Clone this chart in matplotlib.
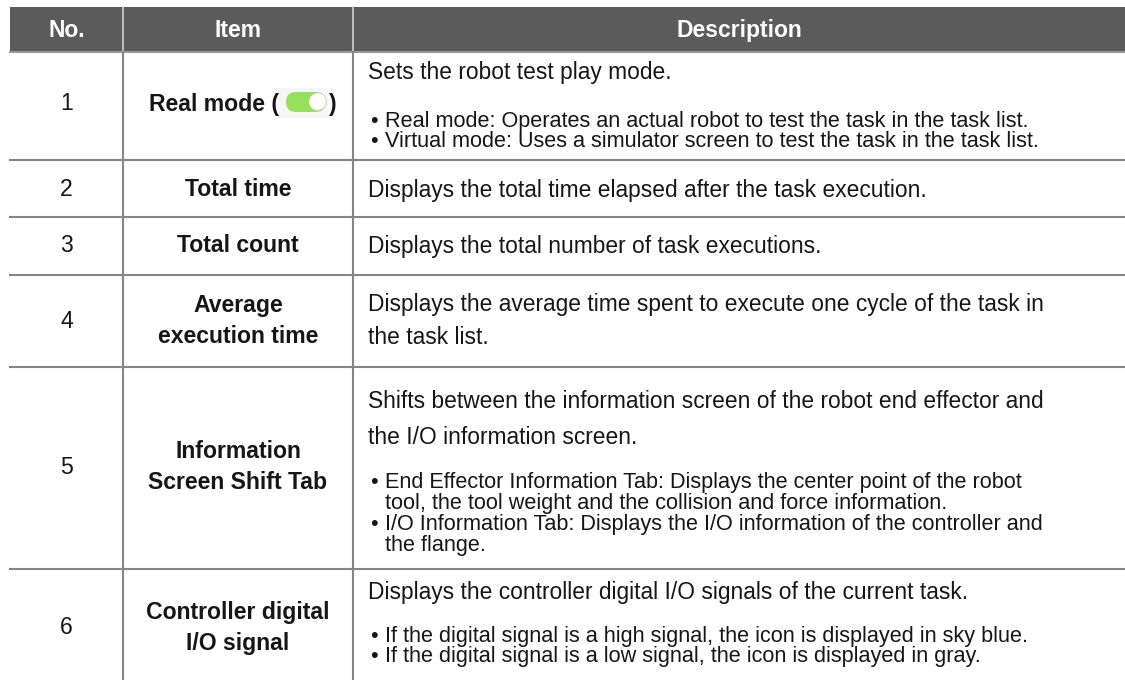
import matplotlib
matplotlib.use("Agg")
import matplotlib.pyplot as plt
from matplotlib.patches import Rectangle, FancyBboxPatch, Circle
from matplotlib.font_manager import FontProperties

plt.rcParams['font.family'] = ['Liberation Sans', 'DejaVu Sans']

# ---- data ----
headers = ["No.", "Item", "Description"]
numbers = ["1", "2", "3", "4", "5", "6"]
items = [
    "Real mode (",
    "Total time",
    "Total count",
    "Average\nexecution time",
    "Information\nScreen Shift Tab",
    "Controller digital\nI/O signal",
]
intros = [
    ["Sets the robot test play mode."],
    ["Displays the total time elapsed after the task execution."],
    ["Displays the total number of task executions."],
    ["Displays the average time spent to execute one cycle of the task in",
     "the task list."],
    ["Shifts between the information screen of the robot end effector and",
     "the I/O information screen."],
    ["Displays the controller digital I/O signals of the current task."],
]
bullets = [
    [["Real mode: Operates an actual robot to test the task in the task list."],
     ["Virtual mode: Uses a simulator screen to test the task in the task list."]],
    [], [], [],
    [["End Effector Information Tab: Displays the center point of the robot",
      "tool, the tool weight and the collision and force information."],
     ["I/O Information Tab: Displays the I/O information of the controller and",
      "the flange."]],
    [["If the digital signal is a high signal, the icon is displayed in sky blue."],
     ["If the digital signal is a low signal, the icon is displayed in gray."]],
]

# ---- layout (pixels) ----
W, H = 1125, 680
col_x = [10, 123, 353, W]
header_top, header_bot = 7, 52
row_bounds = [52, 160, 217, 275, 367, 569, 690]
row_centers = [104, 189, 246, 321, 467, 628]
intro_y = [[73], [190], [247], [305, 338], [402, 438], [593]]
bullet_first_y = [119, None, None, None, 480, 634]
bullet_pitch = [20, None, None, None, 21.0, 20]
item_dy = 31  # line spacing for two-line items

fig = plt.figure(figsize=(W / 100, H / 100), dpi=100)
ax = fig.add_axes([0, 0, 1, 1])
ax.set_xlim(0, W)
ax.set_ylim(H, 0)
ax.axis('off')

line_c = '#858585'
txt_c = '#161616'
fs_head = 16.5
fs_item = 16.6
fs_desc = 16.4
fs_bul = 15.6

renderer = fig.canvas.get_renderer()
bul_prop = FontProperties(family=['Liberation Sans'], size=fs_bul)
lp_w, lp_h, lp_d = renderer.get_text_width_height_descent("lp", bul_prop, ismath=False)
lp_asc = lp_h - lp_d
em_px = fs_bul * 100 / 72.0

# header
ax.add_patch(Rectangle((col_x[0], header_top), W - col_x[0], header_bot - header_top,
                       facecolor='#5b5b5b', edgecolor='none'))
ax.plot([col_x[0], W], [header_bot, header_bot], color='#9a9a9a', lw=1.5)
for i, h in enumerate(headers):
    ax.text((col_x[i] + col_x[i + 1]) / 2, (header_top + header_bot) / 2 + 1, h,
            color='white', fontsize=fs_head, fontweight='bold', ha='center', va='center')
for x in col_x[1:3]:
    ax.plot([x, x], [header_top, header_bot], color='#d0d0d0', lw=1.2)

# grid lines
for y in row_bounds[1:-1]:
    ax.plot([col_x[0], W], [y, y], color=line_c, lw=1.5)
for x in col_x[1:3]:
    ax.plot([x, x], [header_bot, H], color=line_c, lw=1.5)

# rows
for r in range(len(numbers)):
    yc = row_centers[r]
    ax.text((col_x[0] + col_x[1]) / 2, yc, numbers[r], fontsize=fs_item,
            ha='center', va='center', color=txt_c)
    if r == 0:
        ax.text(279, yc, items[r], fontsize=fs_item, fontweight='bold',
                ha='right', va='center', color=txt_c)
        ax.text(329, yc, ")", fontsize=fs_item, fontweight='bold',
                ha='left', va='center', color=txt_c)
        ax.add_patch(Rectangle((278, 88), 50, 30, facecolor='#f6f6f6', edgecolor='none'))
        ax.add_patch(FancyBboxPatch((296, 102), 20, 0, boxstyle='round,pad=10',
                                    facecolor='#96e05e', edgecolor='none'))
        ax.add_patch(Circle((318, 102), 9.0, facecolor='#d8d8d8', edgecolor='none'))
        ax.add_patch(Circle((317.5, 101.5), 8.2, facecolor='white', edgecolor='none'))
    else:
        lines = items[r].split("\n")
        n = len(lines)
        for k, ln in enumerate(lines):
            ax.text((col_x[1] + col_x[2]) / 2, yc + (k - (n - 1) / 2) * item_dy, ln,
                    fontsize=fs_item, fontweight='bold', ha='center', va='center',
                    color=txt_c)
    for ln, y in zip(intros[r], intro_y[r]):
        ax.text(368, y, ln, fontsize=fs_desc, ha='left', va='center', color=txt_c)
    if bullets[r]:
        body_lines, dot_lines = [], []
        for b in bullets[r]:
            for k, ln in enumerate(b):
                body_lines.append(ln)
                dot_lines.append("\u2022" if k == 0 else "")
        pitch = bullet_pitch[r]
        ls = (pitch - lp_d) / lp_asc
        n = len(body_lines)
        y_base = bullet_first_y[r] + (n - 1) * pitch + 0.36 * em_px
        ax.text(385, y_base, "\n".join(body_lines), fontsize=fs_bul, ha='left',
                va='baseline', color=txt_c, linespacing=ls)
        ax.text(370, y_base, "\n".join(dot_lines), fontsize=fs_bul, ha='left',
                va='baseline', color=txt_c, linespacing=ls)

fig.savefig("out.png", dpi=100, facecolor='white')
